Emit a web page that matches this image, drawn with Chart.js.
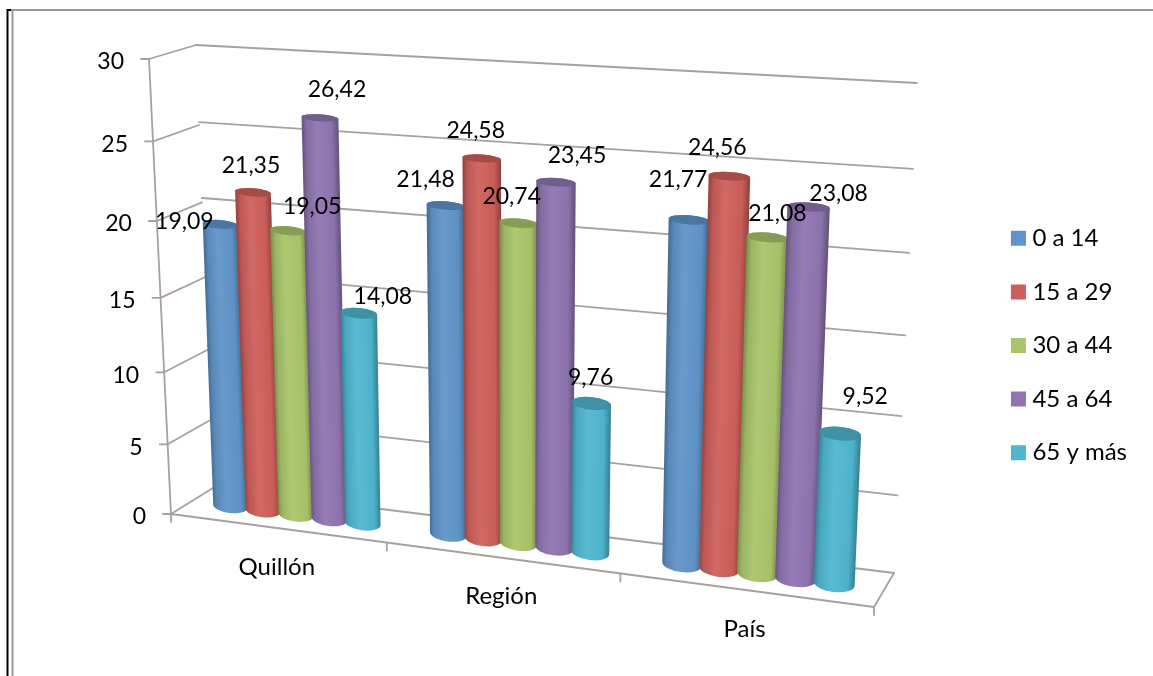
<!DOCTYPE html>
<html>
<head>
<meta charset="utf-8">
<script src="https://cdn.jsdelivr.net/npm/chart.js@4/dist/chart.umd.min.js"></script>
<style>
    body { margin: 0; background: #fff; overflow: hidden; }
    #wrap { position: relative; width: 1153px; height: 676px; }
</style>
</head>
<body>
<div id="wrap"><canvas id="ageChart"></canvas></div>
<script>
// Data
const categories = ['Quillón', 'Región', 'País'];
const seriesNames = ['0 a 14', '15 a 29', '30 a 44', '45 a 64', '65 y más'];
const age0to14 = [19.09, 21.48, 21.77];
const age15to29 = [21.35, 24.58, 24.56];
const age30to44 = [19.05, 20.74, 21.08];
const age45to64 = [26.42, 23.45, 23.08];
const age65plus = [14.08, 9.76, 9.52];
const valueTicks = [0, 5, 10, 15, 20, 25, 30];

const seriesValues = [age0to14, age15to29, age30to44, age45to64, age65plus];
const seriesColors = ['#5f94c8', '#cd5f5a', '#a9c46a', '#8f74b0', '#4fb6d0'];

// Hand placed data labels in the original, so each one has its own nudge from the bar top
const labelNudges = [
    [[-36, -3], [-20, -26], [-11, -40]],
    [[-2, -27], [-6, -28], [-12, -29]],
    [[24, -24], [-7, -27], [10, -24]],
    [[17, -28], [21, -27], [30, -13]],
    [[24, -17], [-1, -26], [25, -37]]
];

const FONT = '23px Lato';
const CATEGORY_FONT = '24px Lato';
const LINE = '#a8a09c';

// Maps the unit square (u along the axis, v up the axis) on to a quad of the picture
// corners are: bottom left, bottom right, top right, top left
function makeProjection(q) {
    const [p0, p1, p2, p3] = q;
    const dx1 = p1[0] - p2[0], dx2 = p3[0] - p2[0], sx = p0[0] - p1[0] + p2[0] - p3[0];
    const dy1 = p1[1] - p2[1], dy2 = p3[1] - p2[1], sy = p0[1] - p1[1] + p2[1] - p3[1];
    const den = dx1 * dy2 - dx2 * dy1;
    const g = (sx * dy2 - dx2 * sy) / den;
    const h = (dx1 * sy - sx * dy1) / den;
    const a = p1[0] - p0[0] + g * p1[0], b = p3[0] - p0[0] + h * p3[0], c = p0[0];
    const d = p1[1] - p0[1] + g * p1[1], e = p3[1] - p0[1] + h * p3[1], f = p0[1];
    return function (u, v) {
        const w = g * u + h * v + 1;
        return { x: (a * u + b * v + c) / w, y: (d * u + e * v + f) / w };
    };
}

// The planes of the 3D box
const barPlane = makeProjection([[190, 501], [883, 590], [906, 94], [172, 52]]);
const backWall = makeProjection([[213, 488], [894, 573], [917, 83], [196, 45]]);
const sideWall = makeProjection([[171, 514], [213, 488], [196, 45], [149, 59]]);
const floorPlane = makeProjection([[171, 514], [874, 607], [894, 573], [213, 488]]);

// Front edge of the floor, with its own foreshortening
function frontEdge(u) {
    const k = 0.886;
    const t = k * u / (1 - u + k * u);
    return { x: 171 + t * (874 - 171), y: 514 + t * (607 - 514) };
}

function shade(hex, f) {
    const n = parseInt(hex.slice(1), 16);
    const ch = [n >> 16, (n >> 8) & 255, n & 255].map(function (c) {
        return Math.round(f < 1 ? c * f : c + (255 - c) * (f - 1));
    });
    return 'rgb(' + ch.join(',') + ')';
}

function segment(ctx, a, b) {
    ctx.beginPath();
    ctx.moveTo(a.x, a.y);
    ctx.lineTo(b.x, b.y);
    ctx.stroke();
}

// Position of a bar element inside the flat chart area, as u and v
function barCoords(chart, el) {
    const area = chart.chartArea;
    return {
        u: (el.x - area.left) / area.width,
        half: el.width / 2 / area.width,
        v: (area.bottom - el.y) / area.height,
        v0: (area.bottom - el.base) / area.height
    };
}

function ring(u, half, v) {
    const l = barPlane(u - half, v);
    const r = barPlane(u + half, v);
    const rx = Math.hypot(r.x - l.x, r.y - l.y) / 2;
    return {
        l: l, r: r, rx: rx,
        cx: (l.x + r.x) / 2,
        cy: (l.y + r.y) / 2,
        ry: rx * (0.4 - 0.24 * v),
        rot: Math.atan2(r.y - l.y, r.x - l.x)
    };
}

function drawCylinder(ctx, c, color) {
    const top = ring(c.u, c.half, c.v);
    const bot = ring(c.u, c.half, c.v0);

    // gradient runs square to the axis of the cylinder
    const len = Math.hypot(top.cx - bot.cx, top.cy - bot.cy);
    const nx = (bot.cy - top.cy) / len, ny = (top.cx - bot.cx) / len;
    const mx = (top.cx + bot.cx) / 2, my = (top.cy + bot.cy) / 2;
    const r = (top.rx + bot.rx) / 2;
    const grad = ctx.createLinearGradient(mx - nx * r, my - ny * r, mx + nx * r, my + ny * r);
    grad.addColorStop(0, shade(color, 0.72));
    grad.addColorStop(0.12, shade(color, 0.92));
    grad.addColorStop(0.4, shade(color, 1.06));
    grad.addColorStop(0.82, shade(color, 0.98));
    grad.addColorStop(1, shade(color, 0.7));

    ctx.beginPath();
    ctx.moveTo(top.l.x, top.l.y);
    ctx.lineTo(bot.l.x, bot.l.y);
    ctx.ellipse(bot.cx, bot.cy, bot.rx, bot.ry, bot.rot, Math.PI, 0, true);
    ctx.lineTo(top.r.x, top.r.y);
    ctx.ellipse(top.cx, top.cy, top.rx, top.ry, top.rot, 0, Math.PI, true);
    ctx.closePath();
    ctx.fillStyle = grad;
    ctx.fill();

    ctx.beginPath();
    ctx.ellipse(top.cx, top.cy, top.rx, top.ry, top.rot, 0, Math.PI * 2);
    ctx.fillStyle = shade(color, 0.8);
    ctx.fill();
}

const boxPlugin = {
    id: 'box3d',
    beforeDraw(chart) {
        // frame of the page the chart was pasted on
        const ctx = chart.ctx;
        ctx.save();
        ctx.strokeStyle = '#9a9a9a';
        ctx.lineWidth = 2;
        segment(ctx, { x: 8, y: 10 }, { x: 1153, y: 10 });
        segment(ctx, { x: 12.5, y: 10 }, { x: 12.5, y: 676 });
        ctx.strokeStyle = '#000';
        segment(ctx, { x: 7.5, y: 9 }, { x: 7.5, y: 676 });
        segment(ctx, { x: 7, y: 10 }, { x: 11, y: 10 });
        ctx.restore();
    },
    beforeDatasetsDraw(chart) {
        const ctx = chart.ctx;
        const yScale = chart.scales.y;
        const xScale = chart.scales.x;
        const area = chart.chartArea;
        ctx.save();
        ctx.strokeStyle = LINE;
        ctx.lineWidth = 1.8;
        ctx.lineCap = 'round';

        // grid lines wrap from the side wall on to the back wall
        valueTicks.forEach(function (t) {
            const v = (area.bottom - yScale.getPixelForValue(t)) / area.height;
            const front = sideWall(0, v);
            const back = sideWall(1, v);
            segment(ctx, { x: front.x - 8, y: front.y }, front);
            segment(ctx, front, back);
            segment(ctx, backWall(0, v), backWall(1, v));
            ctx.fillStyle = '#000';
            ctx.font = FONT;
            ctx.textAlign = 'right';
            ctx.textBaseline = 'middle';
            ctx.fillText(String(t), front.x - 25, front.y + 3);
        });

        // side wall front edge and floor outline
        segment(ctx, sideWall(0, 0), sideWall(0, 1));
        segment(ctx, floorPlane(0, 0), { x: floorPlane(0, 0).x, y: floorPlane(0, 0).y + 8 });
        segment(ctx, floorPlane(0, 0), floorPlane(1, 0));
        segment(ctx, floorPlane(1, 0), floorPlane(1, 1));

        // category ticks and names along the front edge of the floor
        categories.forEach(function (name, i) {
            const midU = (xScale.getPixelForTick(i) - area.left) / area.width;
            const end = frontEdge(midU + 1 / 6);
            segment(ctx, end, { x: end.x, y: end.y + 8 });
            const mid = frontEdge(midU);
            ctx.fillStyle = '#000';
            ctx.font = CATEGORY_FONT;
            ctx.textAlign = 'center';
            ctx.textBaseline = 'middle';
            ctx.fillText(name, mid.x, mid.y + 39);
        });

        // cylinders go here, left to right, so that later series sit in front
        seriesValues.forEach(function (values, s) {
            chart.getDatasetMeta(s).data.forEach(function (el) {
                drawCylinder(ctx, barCoords(chart, el), seriesColors[s]);
            });
        });
        ctx.restore();
    },
    beforeDatasetDraw() {
        return false; // the flat bar is replaced by the cylinder
    },
    afterDatasetsDraw(chart) {
        const ctx = chart.ctx;
        ctx.save();
        ctx.fillStyle = '#000';
        ctx.font = FONT;
        ctx.textAlign = 'center';
        ctx.textBaseline = 'middle';
        seriesValues.forEach(function (values, s) {
            chart.getDatasetMeta(s).data.forEach(function (el, i) {
                const c = barCoords(chart, el);
                const top = ring(c.u, c.half, c.v);
                const nudge = labelNudges[s][i];
                ctx.fillText(values[i].toFixed(2).replace('.', ','), top.cx + nudge[0], top.cy + nudge[1]);
            });
        });
        ctx.restore();
    }
};

new Chart(document.getElementById('ageChart'), {
    type: 'bar',
    data: {
        labels: categories,
        datasets: seriesNames.map(function (name, i) {
            return {
                label: name,
                data: seriesValues[i],
                backgroundColor: seriesColors[i],
                borderColor: seriesColors[i],
                borderWidth: 11,
                categoryPercentage: 0.77,
                barPercentage: 1.05
            };
        })
    },
    options: {
        responsive: true,
        maintainAspectRatio: false,
        animation: false,
        layout: { padding: { top: 15, right: 16 } },
        scales: {
            x: { display: false },
            y: { display: false, min: 0, max: 30, ticks: { stepSize: 5 } }
        },
        plugins: {
            legend: {
                position: 'right',
                labels: {
                    color: '#000',
                    font: { family: 'Lato', size: 24 },
                    boxWidth: 4,
                    boxHeight: 4,
                    padding: 29.6
                }
            },
            tooltip: { enabled: false }
        }
    },
    plugins: [boxPlugin]
});
</script>
</body>
</html>
